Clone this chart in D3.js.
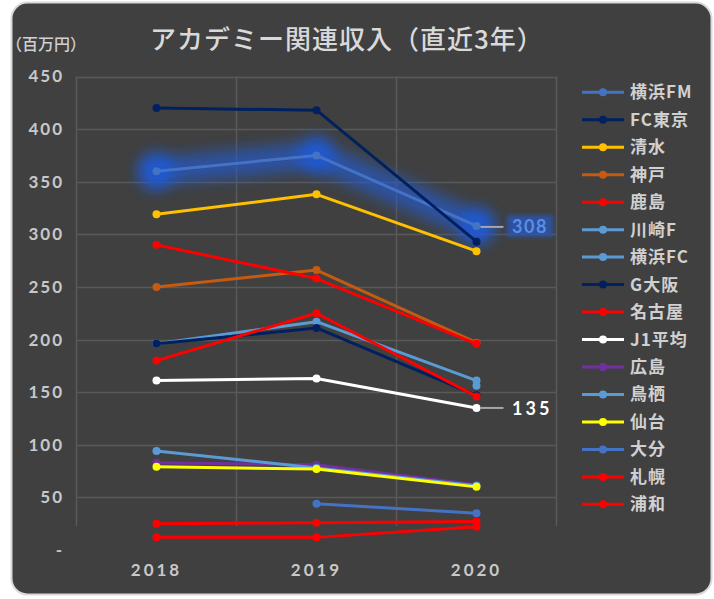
<!DOCTYPE html>
<html><head><meta charset="utf-8">
<script src="https://cdn.jsdelivr.net/npm/d3@7"></script>
<style>
html,body{margin:0;padding:0;background:#fff;}
svg{display:block;}
</style></head>
<body>
<svg id="chart" width="714" height="599"></svg>
<script>
const years = ["2018","2019","2020"];
const yTicks = [0,50,100,150,200,250,300,350,400,450];
const teams = ["横浜FM","FC東京","清水","神戸","鹿島","川崎F","横浜FC","G大阪","名古屋","J1平均","広島","鳥栖","仙台","大分","札幌","浦和"];
const colors = ["#4472C4","#002060","#FFC000","#C55A11","#FF0000","#5B9BD5","#5B9BD5","#002060","#FF0000","#FFFFFF","#7030A0","#5B9BD5","#FFFF00","#4472C4","#FF0000","#FF0000"];
const vYokohamaFM = [360,375,308];
const vFCTokyo    = [420,418,293];
const vShimizu    = [319,338,284];
const vKobe       = [250,266,197];
const vKashima    = [290,258,196];
const vKawasaki   = [196,217,161];
const vYokohamaFC = [null,null,156];
const vGOsaka     = [196,211,147];
const vNagoya     = [180,225,146];
const vJ1Avg      = [161,163,135];
const vHiroshima  = [83,81,62];
const vTosu       = [94,78,61];
const vSendai     = [79,77,60];
const vOita       = [null,44,35];
const vSapporo    = [25,26,27];
const vUrawa      = [12,12,22];
const seriesValues = [vYokohamaFM,vFCTokyo,vShimizu,vKobe,vKashima,vKawasaki,vYokohamaFC,vGOsaka,vNagoya,vJ1Avg,vHiroshima,vTosu,vSendai,vOita,vSapporo,vUrawa];

const svg = d3.select("#chart");
const defs = svg.append("defs");
const f = defs.append("filter").attr("id","glow").attr("x","-50%").attr("y","-50%").attr("width","200%").attr("height","200%");
f.append("feGaussianBlur").attr("stdDeviation",7);
const f2 = defs.append("filter").attr("id","glow2").attr("x","-50%").attr("y","-50%").attr("width","200%").attr("height","200%");
f2.append("feGaussianBlur").attr("stdDeviation",2);

// background frame
svg.append("rect").attr("x",11.5).attr("y",2.5).attr("width",700).attr("height",592)
  .attr("rx",16).attr("fill","#404040").attr("stroke","#D9D9D9").attr("stroke-width",2);

const x = d3.scaleBand().domain(years).range([76.5,556.5]).padding(0);
const xc = d => x(d) + x.bandwidth()/2;
const y = d3.scaleLinear().domain([0,450]).range([550,76.5]);

// grid
const grid = svg.append("g");
grid.selectAll("line.h").data(yTicks.filter(t=>t>0)).join("line")
  .attr("x1",76.5).attr("x2",556.5).attr("y1",d=>Math.round(y(d))+0.5).attr("y2",d=>Math.round(y(d))+0.5)
  .attr("stroke","#595959").attr("stroke-width",1.5);
const vx = years.map(d=>x(d)).concat([x.range()[1]]);
grid.selectAll("line.v").data(vx).join("line")
  .attr("x1",d=>d).attr("x2",d=>d).attr("y1",y(450)).attr("y2",526)
  .attr("stroke","#595959").attr("stroke-width",1.5);

// axes labels
const yAxis = d3.axisLeft(y).tickValues(yTicks).tickSize(0).tickPadding(0)
  .tickFormat(d => d===0 ? "-" : d);
const ya = svg.append("g").attr("transform","translate(64,0)").call(yAxis);
ya.select(".domain").remove();
ya.selectAll("text").attr("fill","#C8C8C8").attr("font-family","Lato, 'DejaVu Sans', sans-serif")
  .attr("font-size",17).attr("font-weight","bold").attr("letter-spacing","2px");

const xAxis = d3.axisBottom(x).tickSize(0).tickPadding(0);
const xa = svg.append("g").attr("transform","translate(0,564)").call(xAxis);
xa.select(".domain").remove();
xa.selectAll("text").attr("fill","#C8C8C8").attr("font-family","Lato, 'DejaVu Sans', sans-serif")
  .attr("font-size",17).attr("font-weight","bold").attr("letter-spacing","3px");

// glow on 横浜FM
const line = d3.line().defined(d=>d.v!=null).x(d=>xc(d.year)).y(d=>y(d.v));
const fmPts = years.map((yr,i)=>({year:yr,v:vYokohamaFM[i]}));
const gl = svg.append("g").attr("filter","url(#glow)");
gl.append("path").attr("d",line(fmPts)).attr("fill","none").attr("stroke","#2258C8")
  .attr("stroke-width",28).attr("stroke-opacity",0.7).attr("stroke-linejoin","round").attr("stroke-linecap","round");
gl.selectAll("circle").data(fmPts).join("circle").attr("cx",d=>xc(d.year)).attr("cy",d=>y(d.v))
  .attr("r",19).attr("fill","#1F5AD6").attr("fill-opacity",0.9);

// series
const sg = svg.append("g");
teams.forEach((t,i)=>{
  const pts = years.map((yr,j)=>({year:yr,v:seriesValues[i][j]}));
  const g = sg.append("g");
  g.append("path").attr("d",line(pts)).attr("fill","none").attr("stroke",colors[i])
    .attr("stroke-width",3).attr("stroke-linejoin","round").attr("stroke-linecap","round");
  g.selectAll("circle").data(pts.filter(d=>d.v!=null)).join("circle")
    .attr("cx",d=>xc(d.year)).attr("cy",d=>y(d.v)).attr("r",4).attr("fill",colors[i]);
});

// data labels
const lab308 = {year:"2020", v:vYokohamaFM[2]};
svg.append("line").attr("x1",xc(lab308.year)+4).attr("x2",xc(lab308.year)+27)
  .attr("y1",y(lab308.v)+1).attr("y2",y(lab308.v)+1).attr("stroke","#A6A6A6").attr("stroke-width",2);
svg.append("rect").attr("x",507).attr("y",y(lab308.v)-11).attr("width",46).attr("height",22)
  .attr("fill","#2A55B0").attr("filter","url(#glow2)").attr("opacity",0.85);
svg.append("text").attr("x",530).attr("y",y(lab308.v)+7).attr("text-anchor","middle")
  .attr("fill","#5A8EE6").attr("font-family","Lato, 'DejaVu Sans', sans-serif").attr("font-size",18)
  .attr("font-weight","bold").attr("letter-spacing","1.5px").text(lab308.v);

const lab135 = {year:"2020", v:vJ1Avg[2]};
svg.append("line").attr("x1",xc(lab135.year)+4).attr("x2",xc(lab135.year)+27)
  .attr("y1",y(lab135.v)).attr("y2",y(lab135.v)).attr("stroke","#A6A6A6").attr("stroke-width",2);
svg.append("text").attr("x",512).attr("y",y(lab135.v)+7)
  .attr("fill","#FFFFFF").attr("font-family","Lato, 'DejaVu Sans', sans-serif").attr("font-size",18)
  .attr("font-weight","bold").attr("letter-spacing","3px").text(lab135.v);

// legend
const lg = svg.append("g");
teams.forEach((t,i)=>{
  const yy = 92.3 + i*27.47;
  lg.append("line").attr("x1",582).attr("x2",624).attr("y1",yy).attr("y2",yy)
    .attr("stroke",colors[i]).attr("stroke-width",3);
  lg.append("circle").attr("cx",603).attr("cy",yy).attr("r",4).attr("fill",colors[i]);
  lg.append("text").attr("x",630).attr("y",yy+6).attr("fill","#D0D0D0")
    .attr("font-family","'Noto Sans CJK JP', sans-serif").attr("font-size",17).attr("font-weight","bold")
    .attr("letter-spacing","1px").text(t);
});

// title
svg.append("text").attr("x",150).attr("y",49).attr("fill","#D9D9D9")
  .attr("font-family","'Noto Sans CJK JP', sans-serif").attr("font-size",26).attr("font-weight","500")
  .attr("letter-spacing","1px")
  .text("アカデミー関連収入（直近3年）");
svg.append("text").attr("x",6).attr("y",50).attr("fill","#D0D0D0")
  .attr("font-family","'Noto Sans CJK JP', sans-serif").attr("font-size",16).attr("font-weight","500")
  .text("（百万円）");
</script>
</body></html>
